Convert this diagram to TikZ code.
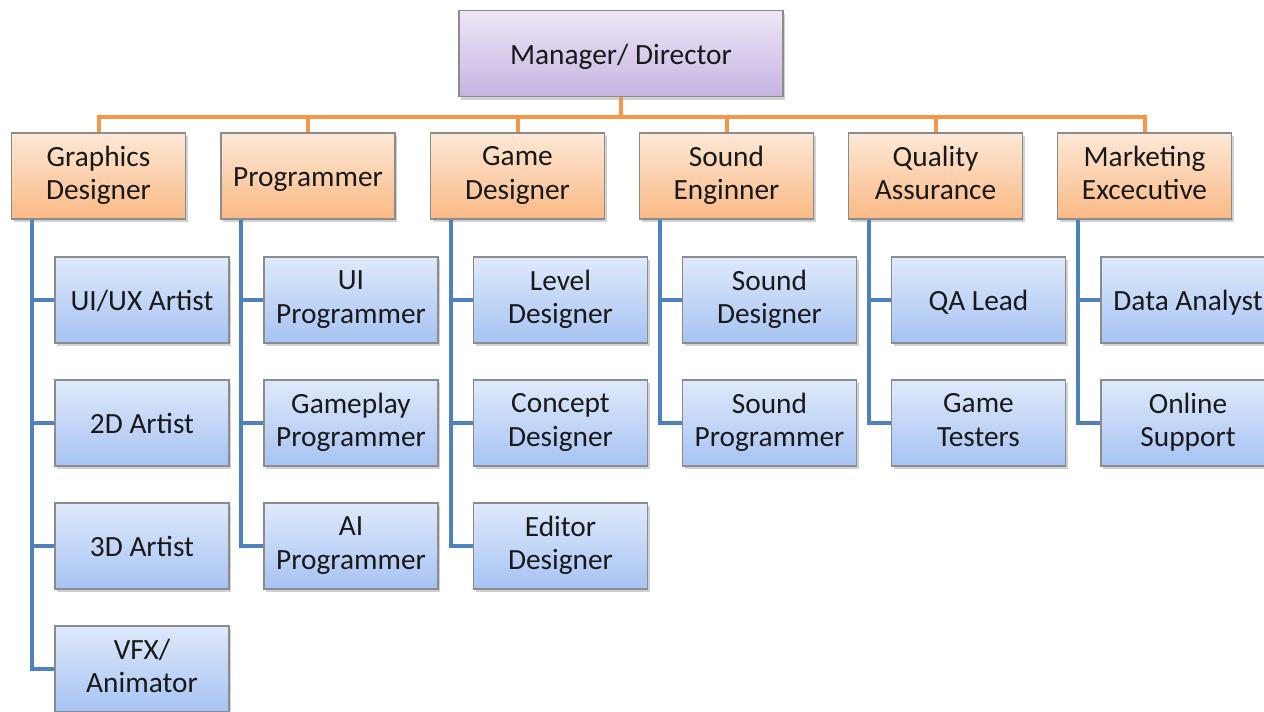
\documentclass[tikz,border=0pt]{standalone}
\usepackage{fontspec}
\setmainfont{Carlito}
\usetikzlibrary{shadows}

\definecolor{lineorange}{HTML}{F79646}
\definecolor{lineblue}{HTML}{4F81BD}
\definecolor{boxgray}{HTML}{8C8C8C}
\definecolor{purpletop}{HTML}{EEE7F7}
\definecolor{purplebot}{HTML}{C6B3E2}
\definecolor{orangetop}{HTML}{FDE8D6}
\definecolor{orangebot}{HTML}{FAB985}
\definecolor{bluetop}{HTML}{DFE9FB}
\definecolor{bluebot}{HTML}{A6C3F3}

\newcommand{\topstrut}{\rule{0pt}{20.5pt}}
\newcommand{\botstrut}{\rule[-4.5pt]{0pt}{4.5pt}}

\tikzset{
  box/.style={draw=boxgray, line width=0.8pt, align=center, inner sep=2pt,
    minimum width=130.5pt, minimum height=64.5pt,
    font=\fontsize{22}{25}\selectfont, text=black!90,
    execute at begin node=\topstrut, execute at end node=\botstrut,
    drop shadow={shadow xshift=1.5pt, shadow yshift=-2.5pt, opacity=0.3, fill=black!60}},
  topbox/.style={box, top color=purpletop, bottom color=purplebot, minimum width=243pt, minimum height=65pt},
  headbox/.style={box, top color=orangetop, bottom color=orangebot},
  rolebox/.style={box, top color=bluetop, bottom color=bluebot},
  orangeline/.style={draw=lineorange, line width=3pt},
  blueline/.style={draw=lineblue, line width=3pt, line join=miter}
}

\begin{document}
\begin{tikzpicture}[x=0.75pt, y=-0.75pt]
\useasboundingbox (0,0) rectangle (1264,711);

% top
\node[topbox] (mgr) at (621,53.5) {Manager/ Director};

% departments
\node[headbox] (gfx)  at (98.5,176)  {Graphics\\Designer};
\node[headbox] (prog) at (308,176)   {Programmer};
\node[headbox] (game) at (517.5,176) {Game\\Designer};
\node[headbox] (snd)  at (726.5,176) {Sound\\Enginner};
\node[headbox] (qa)   at (935.5,176) {Quality\\Assurance};
\node[headbox] (mkt)  at (1144.5,176) {Marketing\\Excecutive};

% roles
\node[rolebox] (uiux) at (142,300) {UI/UX Artist};
\node[rolebox] (art2) at (142,423) {2D Artist};
\node[rolebox] (art3) at (142,546) {3D Artist};
\node[rolebox] (vfx)  at (142,669) {VFX/\\Animator};

\node[rolebox] (uiprog)   at (351,300) {UI\\Programmer};
\node[rolebox] (playprog) at (351,423) {Gameplay\\Programmer};
\node[rolebox] (aiprog)   at (351,546) {AI\\Programmer};

\node[rolebox] (level)   at (560.5,300) {Level\\Designer};
\node[rolebox] (concept) at (560.5,423) {Concept\\Designer};
\node[rolebox] (editor)  at (560.5,546) {Editor\\Designer};

\node[rolebox] (snddes)  at (769.5,300) {Sound\\Designer};
\node[rolebox] (sndprog) at (769.5,423) {Sound\\Programmer};

\node[rolebox] (qalead)  at (978.5,300) {QA Lead};
\node[rolebox] (testers) at (978.5,423) {Game\\Testers};

\node[rolebox] (data)   at (1188,300) {Data Analyst};
\node[rolebox] (online) at (1188,423) {Online\\Support};

% orange bus
\coordinate (bus) at (621,117);
\foreach \d in {gfx,prog,game,snd,qa,mkt}
  \draw[orangeline] (mgr.south) -- (bus) -| (\d.north);

% blue branches
\foreach \d/\r in {gfx/uiux,gfx/art2,gfx/art3,gfx/vfx,
                   prog/uiprog,prog/playprog,prog/aiprog,
                   game/level,game/concept,game/editor,
                   snd/snddes,snd/sndprog,
                   qa/qalead,qa/testers,
                   mkt/data,mkt/online}
  \draw[blueline] ([xshift=15.5pt]\d.south west) |- (\r.west);

\end{tikzpicture}
\end{document}
